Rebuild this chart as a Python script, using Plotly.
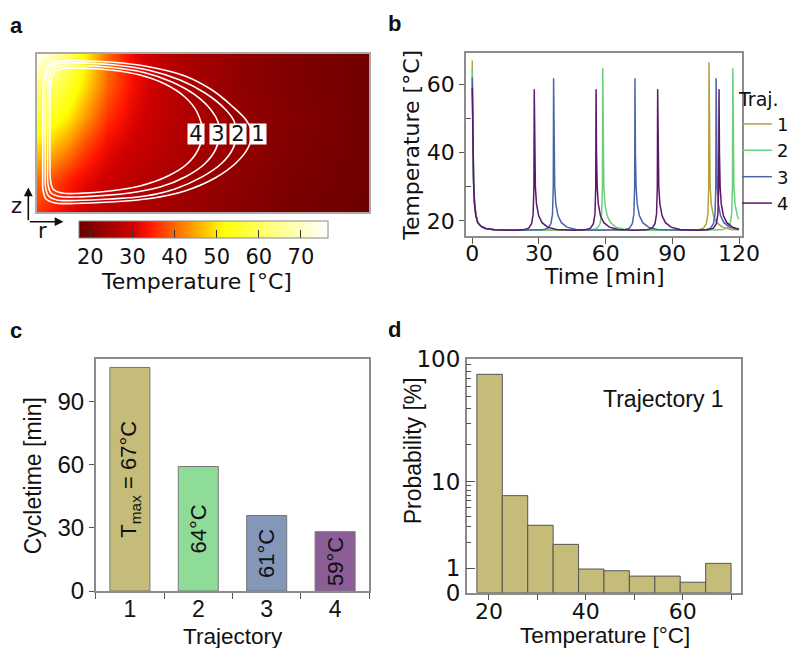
import math
import plotly.graph_objects as go

W, H = 792, 648
def px(x): return x / W
def py(y): return 1 - y / H

DJ = "DejaVu Sans"
AR = "Liberation Sans, Arial, sans-serif"

# ---------------- data ----------------
# (a) temperature field T(r, z) in degC
field_r = [0, 1, 2, 3, 4.5, 6, 8, 10, 13, 16, 21]
field_z = [0, 2, 4, 6, 8, 9, 10]
field_T = [
    [36.5, 34, 31.5, 29.5, 27.5, 26, 24.5, 23, 21, 19, 17.5],
    [40.5, 38, 34.5, 32, 29.5, 27.5, 25.5, 23.5, 21.5, 19.5, 18],
    [48, 46, 42, 37, 32, 29.5, 27, 25, 22.5, 20, 18],
    [56, 54, 50, 44, 36, 31.5, 28, 25.5, 22.5, 20.5, 18],
    [62, 60, 55.5, 49, 39.5, 33, 28, 25, 22, 20, 18],
    [69, 65, 58, 50.5, 40, 33, 28, 25, 22, 20, 18],
    [76, 70, 60, 51, 40, 32, 27.5, 24.5, 22, 20, 18],
]
# (a) trajectories (closed paths in r, z)
traj_r1 = [0.38, 0.40, 0.46, 0.71, 1.22, 2.42, 4.63, 7.15, 9.36, 11.07, 12.33, 13.22, 13.59, 13.34, 12.58, 11.26, 9.36, 7.15, 4.63, 2.42, 1.16, 0.59, 0.40, 0.38, 0.38]
traj_z1 = [4.56, 7.09, 8.48, 9.24, 9.53, 9.59, 9.49, 9.18, 8.61, 7.72, 6.71, 5.82, 5.00, 4.05, 3.10, 2.15, 1.33, 0.85, 0.63, 0.54, 0.57, 0.82, 1.39, 2.66, 4.56]
traj_r2 = [0.54, 0.54, 0.59, 0.81, 1.28, 2.48, 4.63, 7.03, 9.05, 10.63, 11.83, 12.46, 12.62, 12.39, 11.70, 10.44, 8.73, 6.84, 4.63, 2.48, 1.28, 0.75, 0.56, 0.54, 0.54]
traj_z2 = [4.56, 7.09, 8.42, 9.11, 9.38, 9.44, 9.34, 8.99, 8.35, 7.53, 6.58, 5.76, 5.00, 4.01, 3.10, 2.22, 1.46, 1.01, 0.82, 0.73, 0.76, 1.01, 1.58, 2.79, 4.56]
traj_r3 = [0.69, 0.70, 0.75, 0.97, 1.41, 2.61, 4.63, 6.78, 8.54, 10.00, 11.01, 11.45, 11.54, 11.32, 10.63, 9.43, 7.79, 5.89, 4.00, 2.61, 1.47, 0.90, 0.71, 0.69, 0.69]
traj_z3 = [4.56, 7.09, 8.35, 8.96, 9.22, 9.27, 9.16, 8.83, 8.23, 7.41, 6.46, 5.70, 5.00, 4.01, 3.07, 2.25, 1.58, 1.20, 1.03, 0.95, 0.98, 1.20, 1.77, 2.91, 4.56]
traj_r4 = [0.84, 0.84, 0.90, 1.09, 1.53, 2.73, 4.63, 6.52, 8.10, 9.36, 10.12, 10.47, 10.18, 9.49, 8.29, 6.52, 4.63, 2.73, 1.60, 1.03, 0.87, 0.84, 0.84]
traj_z4 = [4.56, 7.09, 8.23, 8.80, 9.05, 9.10, 8.99, 8.67, 8.10, 7.28, 6.33, 5.00, 3.92, 3.04, 2.28, 1.65, 1.33, 1.18, 1.20, 1.46, 2.03, 3.29, 4.56]
traj_names = ["1", "2", "3", "4"]
traj_label_r = [13.97, 12.71, 11.45, 10.06]
traj_label_z = [4.94, 4.94, 4.94, 4.94]

# (b) temperature vs time
t1 = [0, 0.3, 0.6, 1, 1.6, 2.5, 4, 6, 10, 20, 40, 60, 80, 95,
      101.5, 104, 105.3, 106, 106.35, 106.5, 106.7, 107, 107.5, 108.5, 110, 112.5, 116.5, 120]
T1 = [67, 45, 33, 26, 22, 19.5, 18.4, 17.8, 17.4, 17.3, 17.3, 17.3, 17.3, 17.3,
      17.4, 17.9, 19.2, 22, 30, 66.5, 40, 30, 25, 21.5, 19.5, 18.2, 17.5, 17.4]
t2 = [0, 0.3, 0.6, 1, 1.6, 2.5, 4, 6, 10, 20, 40,
      53.7, 56.2, 57.5, 58.2, 58.55, 58.7, 58.9, 59.2, 59.7, 60.7, 62.2, 64.7, 68.7,
      75, 90, 105,
      112.2, 114.7, 116.0, 116.7, 117.05, 117.2, 117.4, 117.7, 118.2, 119.2, 120]
T2 = [64.5, 44, 33, 26, 22, 19.5, 18.4, 17.8, 17.4, 17.3, 17.3,
      17.4, 17.9, 19.2, 22, 30, 64.7, 40, 30, 25, 21.5, 19.5, 18.2, 17.5,
      17.3, 17.3, 17.3,
      17.4, 17.9, 19.2, 22, 30, 64.7, 40, 30, 25, 21.5, 20.5]
t3 = [0, 0.3, 0.6, 1, 1.6, 2.5, 4, 6, 10, 20,
      31.6, 34.1, 35.4, 36.1, 36.45, 36.6, 36.8, 37.1, 37.6, 38.6, 40.1, 42.6, 46.6,
      55,
      68.2, 70.7, 72.0, 72.7, 73.05, 73.2, 73.4, 73.7, 74.2, 75.2, 76.7, 79.2, 83.2,
      95,
      104.7, 107.2, 108.5, 109.2, 109.55, 109.7, 109.9, 110.2, 110.7, 111.7, 113.2, 115.7, 119.7,
      120]
T3 = [62, 42, 32, 25.5, 22, 19.5, 18.4, 17.8, 17.4, 17.3,
      17.4, 17.9, 19.2, 22, 30, 61.8, 40, 30, 25, 21.5, 19.5, 18.2, 17.5,
      17.3,
      17.4, 17.9, 19.2, 22, 30, 61.8, 40, 30, 25, 21.5, 19.5, 18.2, 17.5,
      17.3,
      17.4, 17.9, 19.2, 22, 30, 61.8, 40, 30, 25, 21.5, 19.5, 18.2, 17.5,
      17.5]
t4 = [0, 0.3, 0.6, 1, 1.6, 2.5, 4, 6, 10, 18,
      22.9, 25.4, 26.7, 27.4, 27.75, 27.9, 28.1, 28.4, 28.9, 29.9, 31.4, 33.9, 37.9,
      45,
      50.7, 53.2, 54.5, 55.2, 55.55, 55.7, 55.9, 56.2, 56.7, 57.7, 59.2, 61.7, 65.7,
      73,
      78.4, 80.9, 82.2, 82.9, 83.25, 83.4, 83.6, 83.9, 84.4, 85.4, 86.9, 89.4, 93.4,
      100,
      106.0, 108.5, 109.8, 110.5, 110.85, 111.0, 111.2, 111.5, 112.0, 113.0, 114.5, 117.0,
      120]
T4 = [59, 40, 31, 25, 21.5, 19.5, 18.4, 17.8, 17.4, 17.3,
      17.4, 17.9, 19.2, 22, 30, 58.6, 40, 30, 25, 21.5, 19.5, 18.2, 17.5,
      17.3,
      17.4, 17.9, 19.2, 22, 30, 58.6, 40, 30, 25, 21.5, 19.5, 18.2, 17.5,
      17.3,
      17.4, 17.9, 19.2, 22, 30, 58.6, 40, 30, 25, 21.5, 19.5, 18.2, 17.5,
      17.3,
      17.4, 17.9, 19.2, 22, 30, 58.6, 40, 30, 25, 21.5, 19.5, 18.2,
      17.6]
time_series = [(t1, T1), (t2, T2), (t3, T3), (t4, T4)]
for tt, TT in time_series:
    assert len(tt) == len(TT)

# (c) cycle times
cyc_traj = [1, 2, 3, 4]
cyc_time = [106.3, 59.2, 35.9, 28.2]
cyc_text = ["T<sub>max</sub> = 67°C", "64°C", "61°C", "59°C"]

# (d) histogram of temperature, trajectory 1
hist_edges = [17.5, 22.75, 28.0, 33.25, 38.5, 43.75, 49.0, 54.25, 59.5, 64.75, 70.0]
hist_prob = [75.4, 6.9, 3.14, 1.89, 0.97, 0.90, 0.68, 0.68, 0.43, 1.14]

# ---------------- styles ----------------
line_cols = ["#b3a33a", "#6ccf7b", "#4a66a8", "#5b176a"]
bar_cols = ["#c4bc78", "#8edc98", "#8497b9", "#8b5e97"]
hist_col = "#c4bc78"
frame_col = "#8c8c8c"
tick_col = "#555555"

colorscale = [
    [0.0, "#6a0000"],
    [0.217, "#d00000"],
    [0.281, "#ff1400"],
    [0.45, "#ff9a00"],
    [0.58, "#ffff00"],
    [0.75, "#ffff70"],
    [1.0, "#ffffff"],
]

# broken-log scale of panel d (0..1 linear, then one decade per segment)
SEG0, DEC1, DEC2 = 24.4, 86.6, 122.4
def ypos(p):
    if p <= 1:
        return SEG0 * p
    if p <= 10:
        return SEG0 + DEC1 * math.log10(p)
    return SEG0 + DEC1 + DEC2 * math.log10(p / 10)

fig = go.Figure()

# ---- panel a ----
fig.add_trace(go.Heatmap(
    x=field_r, y=field_z, z=field_T, zsmooth="best",
    colorscale=colorscale, zmin=17.2, zmax=76.3,
    xaxis="x", yaxis="y", showlegend=False, hoverinfo="skip",
    colorbar=dict(
        orientation="h", x=px(203), xanchor="center", y=py(220.7), yanchor="top",
        len=248.6, lenmode="pixels", thickness=16.6, thicknessmode="pixels",
        outlinewidth=1, outlinecolor="#888", ticks="inside", ticklen=8,
        tickwidth=1.2, tickcolor="#333", tickvals=[20, 30, 40, 50, 60, 70],
        tickfont=dict(family=DJ, size=21, color="#111"), xpad=0, ypad=0,
    ),
))
for rr, zz in [(traj_r1, traj_z1), (traj_r2, traj_z2), (traj_r3, traj_z3), (traj_r4, traj_z4)]:
    fig.add_trace(go.Scatter(x=rr, y=zz, mode="lines", xaxis="x", yaxis="y",
                             line=dict(color="white", width=1.6, shape="spline", smoothing=1),
                             showlegend=False, hoverinfo="skip"))

# ---- panel b ----
for i, (tt, TT) in enumerate(time_series):
    fig.add_trace(go.Scatter(x=tt, y=TT, mode="lines", name=traj_names[i],
                             xaxis="x2", yaxis="y2",
                             line=dict(color=line_cols[i], width=1.5)))

# ---- panel c ----
fig.add_trace(go.Bar(x=cyc_traj, y=cyc_time, width=0.585, xaxis="x3", yaxis="y3",
                     marker=dict(color=bar_cols, line=dict(color="#777", width=1)),
                     text=cyc_text, textposition="inside", insidetextanchor="middle",
                     textangle=-90, constraintext="none",
                     textfont=dict(family=AR, size=22, color="#111"),
                     showlegend=False, hoverinfo="skip"))

# ---- panel d ----
centers = [(hist_edges[i] + hist_edges[i + 1]) / 2 for i in range(len(hist_prob))]
widths = [hist_edges[i + 1] - hist_edges[i] for i in range(len(hist_prob))]
fig.add_trace(go.Bar(x=centers, y=[ypos(p) for p in hist_prob], width=widths,
                     xaxis="x4", yaxis="y4",
                     marker=dict(color=hist_col, line=dict(color="#555", width=1)),
                     showlegend=False, hoverinfo="skip"))

common = dict(showgrid=False, zeroline=False)
frame = dict(showline=True, linecolor=frame_col, linewidth=1.5, mirror=True)

d_major = [0, 1, 10, 100]
d_minor = [2, 3, 4, 5, 6, 7, 8, 9, 20, 30, 40, 50, 60, 70, 80, 90]

fig.update_layout(
    width=W, height=H, margin=dict(l=0, r=0, t=0, b=0, autoexpand=False),
    paper_bgcolor="white", plot_bgcolor="white",
    barmode="overlay",
    # a
    xaxis=dict(domain=[px(36.7), px(369.3)], range=[0, 21], anchor="y",
               showticklabels=False, ticks="", linecolor="#aaa", showline=True,
               mirror=True, linewidth=1.5, **common),
    yaxis=dict(domain=[py(212), py(54)], range=[0, 10], anchor="x",
               showticklabels=False, ticks="", linecolor="#aaa", showline=True,
               mirror=True, linewidth=1.5, **common),
    # b
    xaxis2=dict(domain=[px(466), px(741.7)], range=[-2.8, 121.2], anchor="y2",
                tickvals=[0, 30, 60, 90, 120], ticks="outside", ticklen=6,
                ticklabelstandoff=-9,
                tickcolor=tick_col, tickfont=dict(family=DJ, size=22, color="#111"),
                **frame, **common),
    yaxis2=dict(domain=[py(236), py(53.3)], range=[15.6, 69.1], anchor="x2",
                tickvals=[20, 40, 60], ticks="outside", ticklen=5, tickcolor=tick_col,
                minor=dict(tickmode="array", tickvals=[30, 50], ticks="inside",
                           ticklen=5, tickcolor=tick_col),
                tickfont=dict(family=DJ, size=22, color="#111"),
                **frame, **common),
    yaxis5=dict(overlaying="y2", side="right", anchor="x2", range=[15.6, 69.1],
                tickvals=[20, 30, 40, 50, 60], ticks="inside", ticklen=7,
                tickcolor=tick_col, showticklabels=False, showline=False, **common),
    # c
    xaxis3=dict(domain=[px(95.7), px(369.3)], range=[0.5, 4.5], anchor="y3",
                tickvals=[1, 2, 3, 4], ticks="", ticklabelstandoff=-3,
                minor=dict(tickmode="array", tickvals=[0.5, 1.5, 2.5, 3.5, 4.5],
                           ticks="outside", ticklen=6, tickcolor=tick_col),
                tickfont=dict(family=AR, size=23, color="#111"),
                **frame, **common),
    yaxis3=dict(domain=[py(591), py(359.3)], range=[0, 110.2], anchor="x3",
                tickvals=[0, 30, 60, 90], ticks="outside", ticklen=5, tickcolor=tick_col,
                tickfont=dict(family=AR, size=24, color="#111"),
                **frame, **common),
    yaxis6=dict(overlaying="y3", side="right", anchor="x3", range=[0, 110.2],
                tickvals=[0, 20, 40, 60, 80, 100], ticks="inside", ticklen=7,
                tickcolor=tick_col, showticklabels=False, showline=False, **common),
    # d
    xaxis4=dict(domain=[px(466.7), px(741)], range=[15.4, 72.05], anchor="y4",
                tickvals=[20, 40, 60], ticks="outside", ticklen=6, tickcolor=tick_col,
                ticklabelstandoff=-8,
                minor=dict(tickmode="array", tickvals=[30, 50, 70], ticks="outside",
                           ticklen=6, tickcolor=tick_col),
                tickfont=dict(family=DJ, size=22, color="#111"),
                **frame, **common),
    xaxis5=dict(overlaying="x4", side="top", anchor="y4", range=[15.4, 72.05],
                tickvals=[20, 30, 40, 50, 60, 70], ticks="inside", ticklen=6,
                tickcolor=tick_col, showticklabels=False, showline=False, **common),
    yaxis4=dict(domain=[py(592.7), py(359.3)], range=[0, ypos(100)], anchor="x4",
                tickvals=[ypos(v) for v in d_major], ticktext=[str(v) for v in d_major],
                ticks="inside", ticklen=9, tickcolor=tick_col,
                minor=dict(tickmode="array", tickvals=[ypos(v) for v in d_minor],
                           ticks="inside", ticklen=5, tickcolor=tick_col),
                tickfont=dict(family=DJ, size=23, color="#111"),
                **frame, **common),
    yaxis7=dict(overlaying="y4", side="right", anchor="x4", range=[0, ypos(100)],
                tickvals=[ypos(v) for v in d_major], ticks="inside", ticklen=9,
                tickcolor=tick_col, showticklabels=False, showline=False,
                minor=dict(tickmode="array", tickvals=[ypos(v) for v in d_minor],
                           ticks="inside", ticklen=5, tickcolor=tick_col),
                **common),
    legend=dict(x=px(737), y=py(81), xanchor="left", yanchor="top",
                title=dict(text="Traj.", font=dict(family=DJ, size=19, color="#111")),
                font=dict(family=DJ, size=18, color="#111"),
                bgcolor="rgba(0,0,0,0)", tracegroupgap=0, itemwidth=30),
)

ann = []
def text(x, y, s, font, size, angle=0, bold=False, xanchor="center"):
    ann.append(dict(x=px(x), y=py(y), xref="paper", yref="paper", text=(f"<b>{s}</b>" if bold else s),
                    showarrow=False, textangle=angle, xanchor=xanchor, yanchor="middle",
                    font=dict(family=font, size=size, color="#111")))

# panel letters
text(16.5, 26, "a", AR, 22, bold=True)
text(394, 24, "b", AR, 22, bold=True)
text(15.5, 330, "c", AR, 22, bold=True)
text(394, 329, "d", AR, 22, bold=True)
# panel a
text(196.7, 281.7, "Temperature [°C]", DJ, 22)
text(16, 206, "z", DJ, 21)
text(42.5, 231, "r", DJ, 21)
ann.append(dict(x=px(28.3), y=py(187.5), xref="paper", yref="paper", text="",
                showarrow=True, ax=0, ay=34.2, arrowhead=2, arrowsize=1.1,
                arrowwidth=1.6, arrowcolor="#111"))
ann.append(dict(x=px(63.5), y=py(221.7), xref="paper", yref="paper", text="",
                showarrow=True, ax=-35.2, ay=0, arrowhead=2, arrowsize=1.1,
                arrowwidth=1.6, arrowcolor="#111"))
for i in range(4):
    ann.append(dict(x=traj_label_r[i], y=traj_label_z[i], xref="x", yref="y",
                    text=traj_names[i], showarrow=False, bgcolor="white",
                    width=16, height=20, borderpad=0,
                    font=dict(family=DJ, size=21, color="#111")))
# panel b
text(410.8, 145, "Temperature [°C]", DJ, 22, angle=-90)
text(604.7, 276.7, "Time [min]", DJ, 22)
# panel c
text(32.5, 475.8, "Cycletime [min]", AR, 23, angle=-90)
text(232.5, 636, "Trajectory", AR, 22.5)
# panel d
text(412.5, 450.8, "Probability [%]", AR, 23, angle=-90)
text(605, 635.5, "Temperature [°C]", AR, 22.5)
text(663.8, 399, "Trajectory 1", AR, 23)

fig.update_layout(annotations=ann)
fig.write_html("out.html")
